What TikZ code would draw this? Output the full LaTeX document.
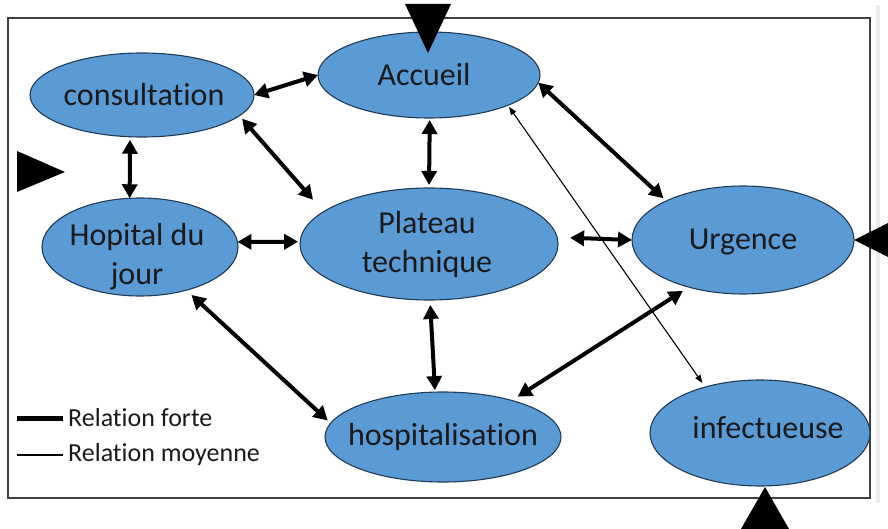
\documentclass[tikz,border=0pt]{standalone}
\usepackage{fontspec}
\setmainfont{Carlito}[Ligatures=NoCommon]
\usetikzlibrary{shapes.geometric,arrows.meta}

\definecolor{ovalfill}{HTML}{5B9BD5}
\definecolor{ovalline}{HTML}{1F3B57}
\definecolor{labeltext}{HTML}{1A1A1A}
\definecolor{framegray}{HTML}{404040}

\tikzset{
  oval/.style={ellipse, draw=ovalline, fill=ovalfill, line width=1.1pt,
    inner xsep=-12pt, inner ysep=0pt, outer sep=0pt, align=center, text=labeltext,
    font=\fontsize{32}{39}\selectfont},
  ovaltext/.style={inner sep=0pt, align=center, text=labeltext,
    font=\fontsize{32}{39}\selectfont},
  strong/.style={line width=4pt, {Triangle[length=14pt,width=15pt]}-{Triangle[length=14pt,width=15pt]}},
  medium/.style={line width=1.1pt, {Triangle[length=8pt,width=6pt]}-{Triangle[length=8pt,width=6pt]}},
  marker/.style={fill=black, draw=none},
  legendtext/.style={anchor=west, inner sep=0pt, text=labeltext,
    font=\fontsize{26}{31}\selectfont}
}

\begin{document}
\begin{tikzpicture}[x=1pt, y=-1pt]
  \useasboundingbox (0,0) rectangle (888,529);

  % outer frame and faint side strip
  \fill[black!7] (876,5) rectangle (880,503);
  \draw[framegray, line width=1.5pt] (8,18) rectangle (870,498);

  % services
  \node[oval, minimum width=224pt, minimum height=84pt]  (cons) at (142,95)  {};
  \node[ovaltext] (conslbl) at (144,95) {consultation};
  \node[oval, minimum width=222pt, minimum height=86pt]  (acc)  at (429,75)  {};
  \node[ovaltext] (acclbl) at (424,75) {Accueil};
  \node[oval, minimum width=196pt, minimum height=98pt]  (hop)  at (140,247) {};
  \node[ovaltext] (hoplbl) at (137,257) {Hopital du\\jour};
  \node[oval, minimum width=258pt, minimum height=112pt] (plat) at (429,244) {};
  \node[ovaltext] (platlbl) at (427,244) {Plateau\\technique};
  \node[oval, minimum width=222pt, minimum height=108pt] (urg)  at (743,240) {};
  \node[ovaltext] (urglbl) at (743,242) {Urgence};
  \node[oval, minimum width=236pt, minimum height=90pt]  (hosp) at (443,437) {};
  \node[ovaltext] (hosplbl) at (443,437) {hospitalisation};
  \node[oval, minimum width=220pt, minimum height=106pt] (inf)  at (760,433) {};
  \node[ovaltext] (inflbl) at (768,428) {infectueuse};

  % strong relations
  \draw[strong] (cons.0) -- (acc.180);
  \draw[strong, shorten <=4pt, shorten >=16pt] (cons.-12) -- (plat.163);
  \draw[strong, shorten <=3pt] (cons.-106) -- (hop.102);
  \draw[strong, shorten >=2pt] (hop.3) -- (plat.179);
  \draw[strong, shorten <=2pt, shorten >=3pt] (acc.-89) -- (plat.90);
  \draw[strong, shorten <=5pt, shorten >=2pt] (plat.-89) -- (hosp.100);
  \draw[strong, shorten >=4pt] (acc.-4) -- (urg.153);
  \draw[strong, shorten <=13pt] (plat.3) -- (urg.180);
  \draw[strong, shorten <=7pt, shorten >=7pt] (hosp.28) -- (urg.-139);
  \draw[strong, shorten <=7pt, shorten >=4pt] (hop.-43) -- (hosp.173);

  % medium relation
  \draw[medium, shorten <=2pt, shorten >=5pt] (acc.-21) -- (inf.140);

  % legend
  \coordinate (lgA1) at (17,418);
  \coordinate (lgA2) at (63,418);
  \coordinate (lgB1) at (17,455);
  \coordinate (lgB2) at (63,455);
  \draw[line width=5pt] (lgA1) -- (lgA2);
  \draw[line width=1.5pt] (lgB1) -- (lgB2);
  \node[legendtext] (lgforte) at (68,418) {Relation forte};
  \node[legendtext] (lgmoy)   at (68,455) {Relation moyenne};

  % black pointer triangles
  \fill[marker] (405,4) -- (451,4) -- (428,53) -- cycle;
  \fill[marker] (854,240) -- (888,223) -- (888,257) -- cycle;
  \fill[marker] (765,487) -- (789,529) -- (741,529) -- cycle;
  \fill[marker] (17,151) -- (65,172) -- (17,192) -- cycle;
\end{tikzpicture}
\end{document}
